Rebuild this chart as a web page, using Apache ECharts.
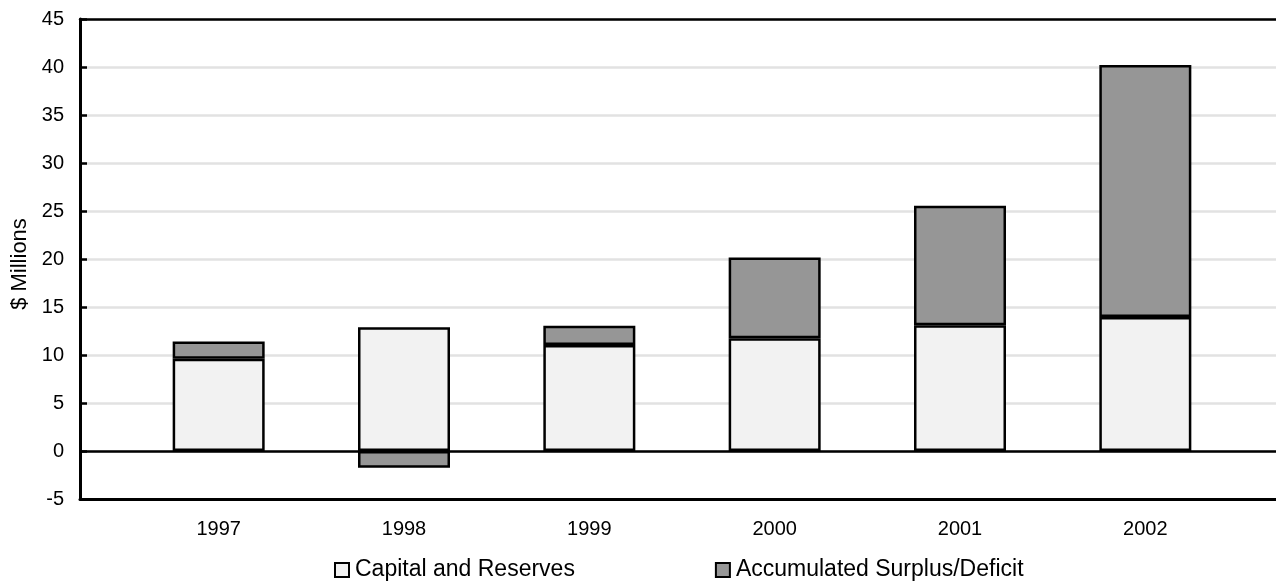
<!DOCTYPE html>
<html>
<head>
<meta charset="utf-8">
<script src="https://cdn.jsdelivr.net/npm/echarts@6/dist/echarts.min.js"></script>
<style>
html,body{margin:0;padding:0;background:#fff;}
#chart{width:1276px;height:581px;}
</style>
</head>
<body>
<div id="chart"></div>
<script>
const years = ['1997', '1998', '1999', '2000', '2001', '2002'];
const capitalReserves = [9.6, 12.9, 11.05, 11.75, 13.1, 13.95];
const accumulatedSurplus = [1.8, -1.75, 2.0, 8.4, 12.45, 26.25];
const yTicks = { min: -5, max: 45, interval: 5 };
const seriesNames = ['Capital and Reserves', 'Accumulated Surplus/Deficit'];
const yTitle = '$ Millions';

const FONT = '"Liberation Sans", Arial, sans-serif';
const chart = echarts.init(document.getElementById('chart'), null, { renderer: 'canvas' });

const option = {
  backgroundColor: '#ffffff',
  animation: false,
  textStyle: { fontFamily: FONT },
  grid: [
    { left: 80, right: 0, top: 19, bottom: 82, containLabel: false },
    { left: 126, right: 38, top: 19, bottom: 82, containLabel: false }
  ],
  xAxis: [
    { gridIndex: 0, type: 'value', min: 0, max: 1, position: 'bottom',
      axisLine: { show: true, onZero: false, lineStyle: { color: '#000', width: 3 } },
      axisTick: { show: false }, axisLabel: { show: false }, splitLine: { show: false } },
    { gridIndex: 0, type: 'value', min: 0, max: 1, position: 'top',
      axisLine: { show: true, onZero: false, lineStyle: { color: '#000', width: 2.5 } },
      axisTick: { show: false }, axisLabel: { show: false }, splitLine: { show: false } },
    { gridIndex: 1, type: 'category', data: years, boundaryGap: true,
      axisLine: { show: false }, axisTick: { show: false },
      axisLabel: { margin: 20, fontSize: 20, color: '#000', fontFamily: FONT } }
  ],
  yAxis: [
    { gridIndex: 0, type: 'value', min: yTicks.min, max: yTicks.max, interval: yTicks.interval,
      axisLine: { show: true, onZero: false, lineStyle: { color: '#000', width: 3 } },
      axisTick: { show: true, inside: true, length: 7, lineStyle: { color: '#000', width: 2.5 } },
      axisLabel: { margin: 16, fontSize: 20, color: '#000', fontFamily: FONT },
      splitLine: { show: true, lineStyle: { color: '#e2e2e2', width: 2.5 } } },
    { gridIndex: 1, type: 'value', min: yTicks.min, max: yTicks.max, interval: yTicks.interval,
      show: false, splitLine: { show: false } }
  ],
  legend: {
    left: 329, top: 553,
    itemGap: 140, itemWidth: 14, itemHeight: 14,
    icon: 'rect',
    textStyle: { fontSize: 23, color: '#000', fontFamily: FONT, lineHeight: 24, padding: [0, 0, 0, 1] },
    data: seriesNames
  },
  graphic: [
    { type: 'text', x: 20, y: 264, rotation: Math.PI / 2,
      style: { text: yTitle, font: '22px ' + FONT, fill: '#000', align: 'center', verticalAlign: 'middle' } }
  ],
  series: [
    { name: seriesNames[0], type: 'bar', stack: 'total', xAxisIndex: 2, yAxisIndex: 1,
      barWidth: 92, data: capitalReserves,
      itemStyle: { color: '#f2f2f2', borderColor: '#000', borderWidth: 2.5 } },
    { name: seriesNames[1], type: 'bar', stack: 'total', xAxisIndex: 2, yAxisIndex: 1,
      barWidth: 92, data: accumulatedSurplus,
      itemStyle: { color: '#969696', borderColor: '#000', borderWidth: 2.5 } },
    { type: 'line', xAxisIndex: 0, yAxisIndex: 0, data: [], silent: true,
      markLine: { silent: true, symbol: 'none', label: { show: false },
        lineStyle: { color: '#000', width: 2.5, type: 'solid' },
        data: [{ yAxis: 0 }] } }
  ]
};
chart.setOption(option);
</script>
</body>
</html>
